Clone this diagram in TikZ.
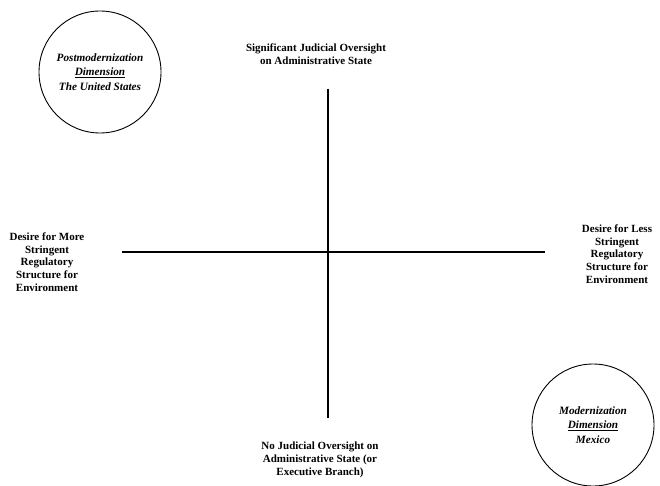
\documentclass[tikz,border=0pt]{standalone}
\usepackage{fontspec}
\setmainfont{Liberation Serif}
\begin{document}
\begin{tikzpicture}[x=1pt,y=-1pt,
  lab/.style={font=\bfseries\fontsize{11}{12.8}\selectfont,align=center,inner sep=0pt},
  dim/.style={circle,draw,line width=0.9pt,minimum size=122pt,inner sep=0pt,
    font=\bfseries\itshape\fontsize{11.2}{14.5}\selectfont,align=center}]
\useasboundingbox (0,0) rectangle (660,486);
\coordinate (vt) at (328,89);
\coordinate (vb) at (328,418);
\coordinate (hl) at (122,252);
\coordinate (hr) at (545,252);
\draw[line width=1.8pt] (vt) -- (vb);
\draw[line width=2.8pt] (hl) -- (hr);
\node[lab] (top) at (316,54) {Significant Judicial Oversight\\on Administrative State};
\node[lab] (bot) at (320,460) {No Judicial Oversight on\\Administrative State (or\\Executive Branch)};
\node[lab] (left) at (47,262) {Desire for More\\Stringent\\Regulatory\\Structure for\\Environment};
\node[lab] (right) at (617,254) {Desire for Less\\Stringent\\Regulatory\\Structure for\\Environment};
\node[dim] (us) at (100,72) {Postmodernization\\\underline{Dimension}\\The United States};
\node[dim] (mx) at (593,425) {Modernization\\\underline{Dimension}\\Mexico};
\end{tikzpicture}
\end{document}
